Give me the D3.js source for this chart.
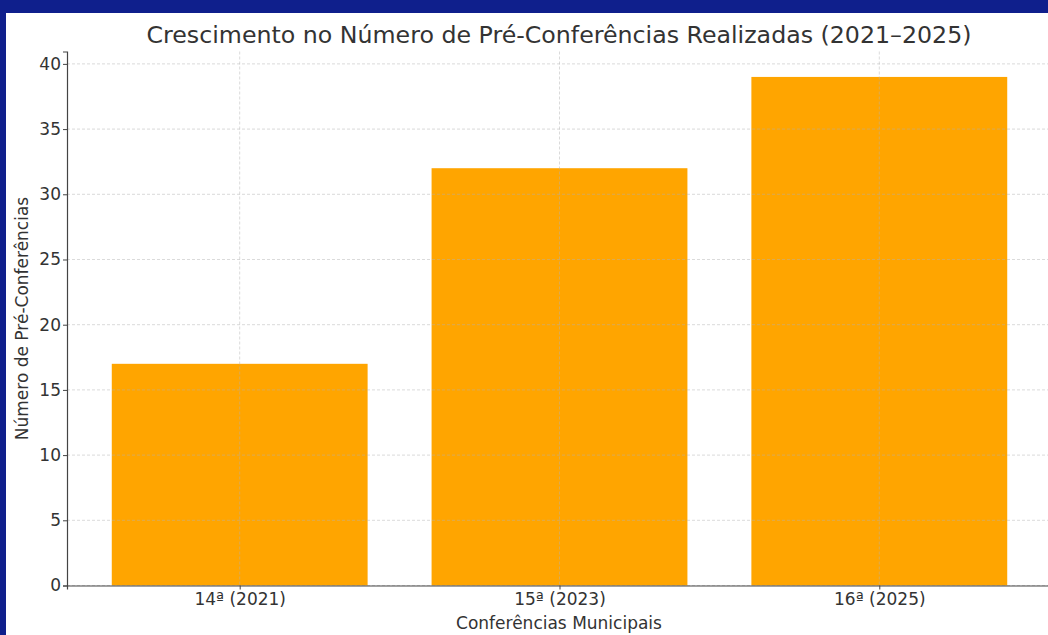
<html>
<head>
  <script src="https://unpkg.com/d3@7/dist/d3.min.js"></script>
  <style>
    body { margin: 0; background: #0f1f8c; }
    svg { display: block; }
    text { font-family: "DejaVu Sans", sans-serif; fill: #333; }
  </style>
</head>
<body>
  <svg id="container" width="1048" height="635"></svg>
<script>
    const categories = ['14ª (2021)', '15ª (2023)', '16ª (2025)'];
    const values = [17, 32, 39];
    const yTicks = [0, 5, 10, 15, 20, 25, 30, 35, 40];

    const svg = d3.select('#container');

    // white sheet inside navy frame
    svg.append('rect')
      .attr('x', 6).attr('y', 13)
      .attr('width', 1048).attr('height', 640)
      .attr('fill', '#fff');

    const plotLeft = 67, plotTop = 51.5, plotBottom = 585.5, plotRight = 1052;

    const xScale = d3.scaleLinear()
      .domain([-0.54, 2.54])
      .range([plotLeft, plotRight]);

    const yScale = d3.scaleLinear()
      .domain([0, 40.95])
      .range([plotBottom, plotTop]);

    const barW = xScale(0.4) - xScale(-0.4);

    // bars
    svg.append('g')
      .selectAll('rect')
      .data(values)
      .join('rect')
      .attr('x', (d, i) => xScale(i) - barW / 2)
      .attr('y', d => yScale(d))
      .attr('width', barW)
      .attr('height', d => yScale(0) - yScale(d))
      .attr('fill', '#ffa500');

    // grid (drawn over the bars)
    const grid = svg.append('g')
      .attr('stroke', '#b0b0b0')
      .attr('stroke-opacity', 0.6)
      .attr('stroke-dasharray', '3,2')
      .attr('stroke-width', 0.8);
    grid.selectAll('.gy')
      .data(yTicks)
      .join('line')
      .attr('x1', plotLeft).attr('x2', plotRight)
      .attr('y1', d => yScale(d)).attr('y2', d => yScale(d));
    grid.selectAll('.gx')
      .data(categories)
      .join('line')
      .attr('x1', (d, i) => xScale(i)).attr('x2', (d, i) => xScale(i))
      .attr('y1', plotTop).attr('y2', plotBottom);

    // axes
    const yAxis = svg.append('g')
      .attr('transform', `translate(${plotLeft},0)`)
      .call(d3.axisLeft(yScale).tickValues(yTicks).tickSize(4).tickPadding(2));
    yAxis.select('.domain').attr('stroke', '#444').attr('stroke-width', 1.2);
    yAxis.selectAll('.tick line').attr('stroke', '#444');
    yAxis.selectAll('.tick text').style('font-size', '17px').attr('fill', '#333');

    const xAxis = svg.append('g')
      .attr('transform', `translate(0,${plotBottom})`)
      .call(d3.axisBottom(xScale)
        .tickValues(d3.range(categories.length))
        .tickFormat(i => categories[i])
        .tickSize(4).tickPadding(3.5));
    xAxis.select('.domain').attr('stroke', '#444').attr('stroke-width', 1.2);
    xAxis.selectAll('.tick line').attr('stroke', '#444');
    xAxis.selectAll('.tick text').style('font-size', '17px').attr('fill', '#333');

    // title and labels
    svg.append('text')
      .attr('x', 559).attr('y', 43)
      .attr('text-anchor', 'middle')
      .style('font-size', '23.7px')
      .text('Crescimento no Número de Pré-Conferências Realizadas (2021–2025)');

    svg.append('text')
      .attr('x', 559).attr('y', 629)
      .attr('text-anchor', 'middle')
      .style('font-size', '17px')
      .text('Conferências Municipais');

    svg.append('text')
      .attr('transform', `translate(28,${(plotTop + plotBottom) / 2}) rotate(-90)`)
      .attr('text-anchor', 'middle')
      .style('font-size', '17px')
      .text('Número de Pré-Conferências');
</script>
</body>
</html>
